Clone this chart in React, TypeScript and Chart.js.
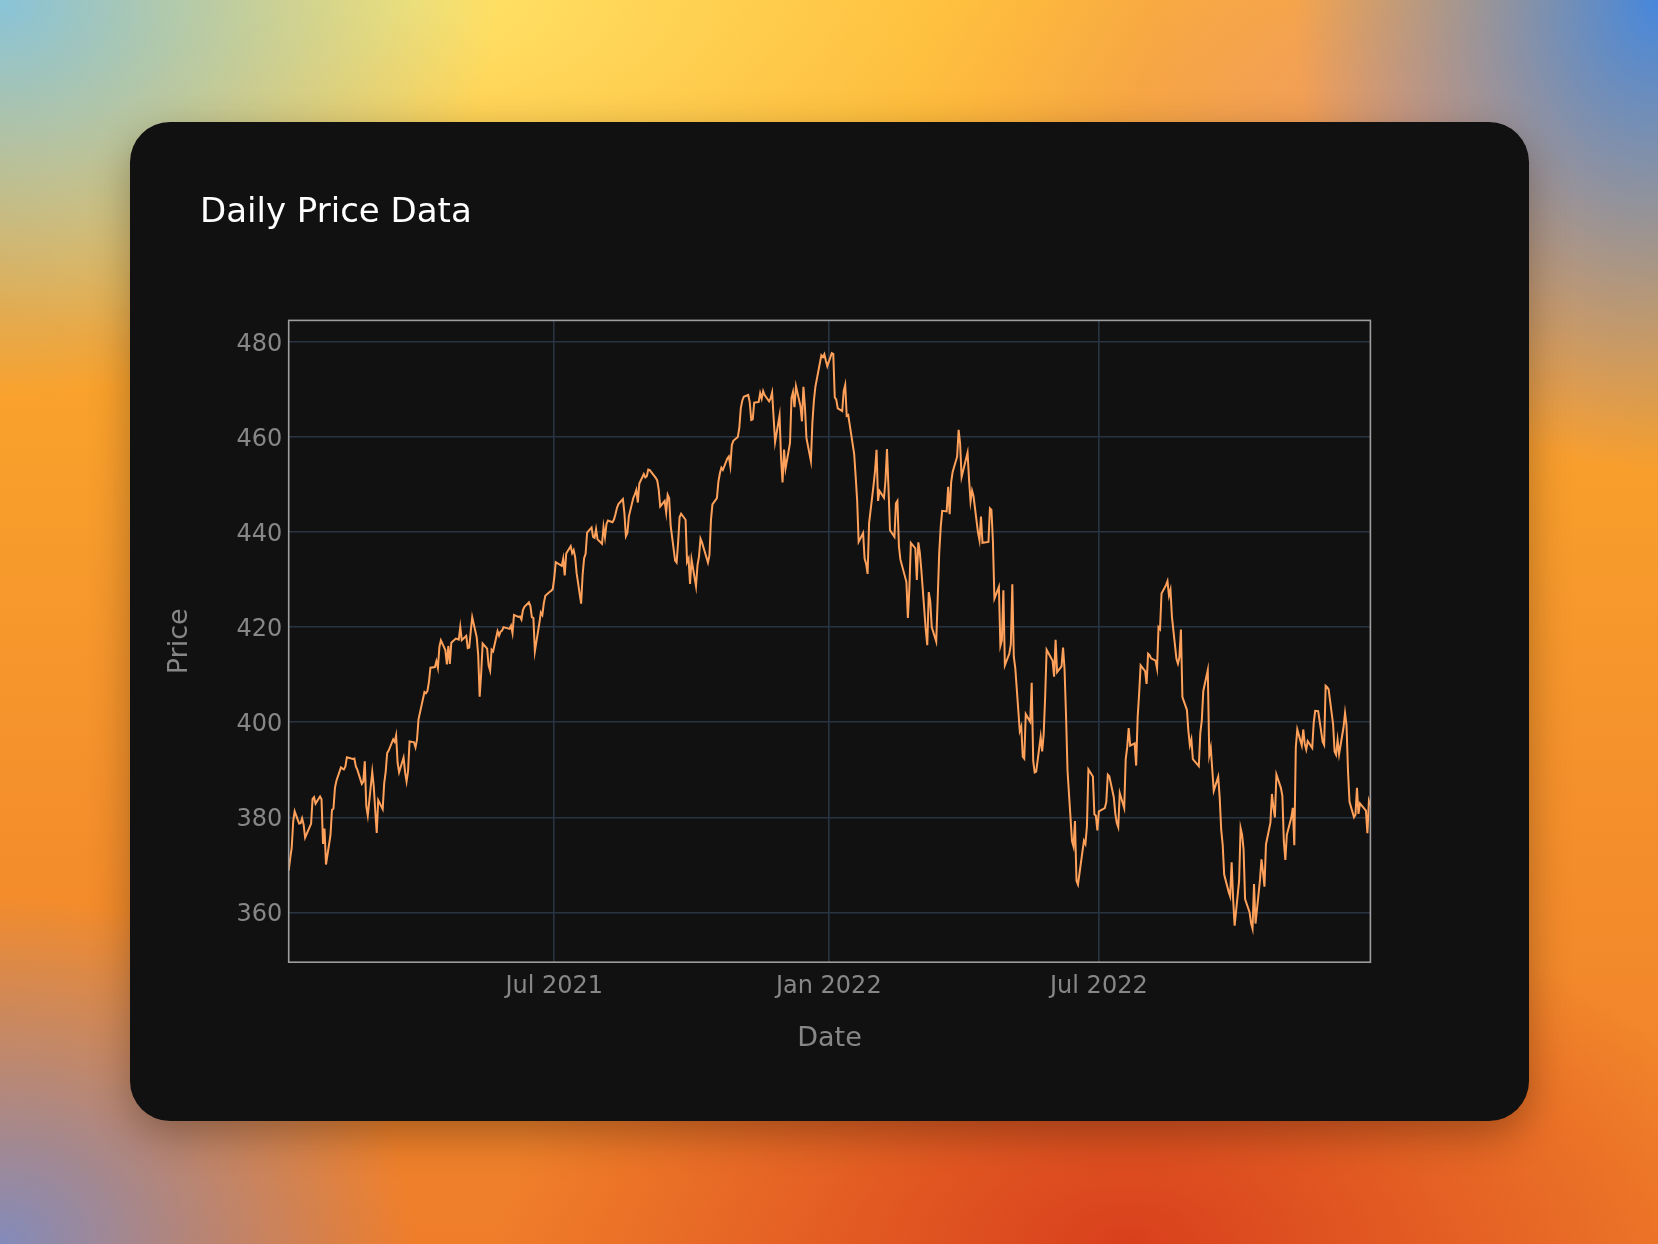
import React, { useEffect, useRef } from 'react';
import { Chart, registerables } from 'chart.js';

Chart.register(...registerables);

// ---------- data ----------
const chartTitle = 'Daily Price Data';
const xAxisTitle = 'Date';
const yAxisTitle = 'Price';

const startDate = '2021-01-04';
const endDate = '2022-12-30';
const marketHolidays = [
  '2021-01-18', '2021-02-15', '2021-04-02', '2021-05-31', '2021-07-05', '2021-09-06', '2021-11-25', '2021-12-24',
  '2022-01-17', '2022-02-21', '2022-04-15', '2022-05-30', '2022-06-20', '2022-07-04', '2022-09-05', '2022-11-24', '2022-12-26',
];

const closeQ1_2021 = [
  368.79, 371.33, 373.55, 379.10, 381.26, 378.69, 378.77, 379.79, 378.46, 375.70, 378.65, 383.89, 384.24, 382.88, 384.39, 383.79, 374.41, 377.63, 370.07,
  376.23, 381.55, 381.85, 386.19, 387.71, 390.51, 390.25, 390.08, 390.71, 392.64, 392.30, 392.39, 390.72, 390.03, 387.03, 387.50, 391.77, 382.33, 380.36,
  389.58, 386.54, 381.42, 376.70, 383.63, 381.72, 387.17, 389.58, 393.53, 394.06, 396.41, 395.91, 397.26, 391.48, 389.48, 392.59, 389.50, 387.52, 389.70, 395.98, 395.78, 394.73, 396.33,
];
const closeQ2_2021 = [
  400.61, 406.36, 406.12, 406.59, 408.52, 411.49, 411.64, 412.86, 411.45, 415.87, 417.26, 415.21, 412.17, 416.07, 412.27, 416.74, 417.61, 417.52, 417.40, 420.06, 417.30,
  418.20, 415.62, 415.75, 419.07, 422.12, 417.94, 414.21, 405.41, 410.28, 416.58, 415.52, 411.94, 410.86, 415.28, 414.94, 419.17, 418.24, 419.07, 419.29, 420.04,
  419.67, 420.33, 418.77, 422.60, 422.19, 422.28, 421.65, 423.61, 424.31, 425.26, 424.48, 422.11, 421.97, 414.92, 420.86, 423.11, 422.60, 425.10, 426.61, 427.47, 427.70, 428.06,
];
const closeQ3_2021 = [
  430.43, 433.72, 432.93, 434.46, 430.92, 435.52, 437.08, 435.59, 436.24, 434.75, 431.34, 424.97, 431.06, 434.55, 435.46, 439.94, 441.02, 439.01, 438.83, 440.65, 438.51,
  437.59, 441.15, 438.98, 441.76, 442.49, 442.13, 442.68, 443.78, 445.11, 445.92, 446.97, 444.04, 439.18, 439.86, 443.36, 447.26, 447.97, 448.91, 446.26, 450.25, 452.23, 451.56,
  451.80, 453.19, 453.08, 451.46, 450.91, 448.98, 445.44, 446.58, 444.17, 447.88, 447.17, 441.40, 434.04, 433.63, 437.86, 443.18, 443.91, 442.64, 433.72, 434.45, 429.14,
];
const closeQ4_2021 = [
  434.24, 428.64, 433.10, 434.90, 438.66, 437.86, 434.69, 433.62, 435.18, 442.50, 445.87, 447.19, 450.64, 452.41, 453.59, 453.12, 455.55, 455.96, 453.94, 458.32, 459.25,
  460.04, 461.90, 466.09, 467.69, 468.53, 468.93, 467.38, 463.62, 463.77, 467.27, 467.43, 469.28, 468.14, 469.73, 468.89, 467.57, 468.19, 469.44, 458.97, 464.60, 455.56,
  450.50, 457.40, 453.42, 458.79, 468.28, 469.52, 466.35, 470.74, 466.57, 463.36, 470.60, 466.45, 459.87, 454.98, 463.06, 467.69, 470.60, 477.26, 476.87, 477.48, 476.16, 474.96,
];
const closeQ1_2022 = [
  477.71, 477.55, 468.38, 467.94, 466.09, 465.51, 469.75, 471.02, 464.53, 464.72, 456.49, 451.75, 446.75, 437.98, 439.84, 434.47, 433.38, 431.24, 441.95, 449.91,
  452.95, 457.35, 446.60, 448.70, 447.26, 450.94, 457.54, 449.32, 440.46, 439.02, 446.10, 446.60, 437.06, 434.23, 429.57, 421.95, 428.30, 437.75, 436.63,
  429.98, 437.89, 435.71, 432.17, 419.43, 416.25, 427.41, 425.48, 420.07, 417.00, 426.17, 435.62, 441.07, 444.52, 444.39, 449.59, 443.80, 450.49, 452.69, 455.91, 461.55, 458.70, 451.64,
];
const closeQ2_2022 = [
  452.92, 456.80, 451.03, 446.52, 448.77, 447.57, 439.92, 438.29, 443.31, 437.79, 437.97, 445.04, 444.71, 438.06, 426.04, 428.51, 416.10, 417.27, 427.81, 412.00,
  414.48, 416.38, 429.06, 413.81, 411.34, 398.17, 399.09, 392.75, 392.34, 401.72, 400.09, 408.32, 391.86, 389.46, 389.63, 396.92, 393.89, 397.37, 405.31, 415.26, 412.93,
  409.59, 417.39, 410.54, 411.79, 415.74, 411.22, 401.44, 389.80, 375.00, 373.87, 379.20, 366.65, 365.86, 375.07, 374.39, 378.06, 390.08, 388.59, 380.65, 380.34, 377.25,
];
const closeQ3_2022 = [
  381.24, 381.96, 383.25, 388.99, 388.67, 384.23, 380.83, 378.83, 377.91, 385.13, 381.95, 392.27, 394.77, 398.79, 395.09, 395.57, 390.89, 401.04, 406.07, 411.99,
  410.77, 408.06, 414.45, 414.17, 413.47, 412.99, 411.35, 419.99, 419.60, 427.10, 428.86, 429.70, 426.65, 427.89, 422.14, 413.35, 412.35, 413.67, 419.51, 405.31, 402.63, 398.21, 395.18,
  396.42, 392.24, 390.76, 397.78, 400.38, 406.60, 410.97, 393.10, 394.69, 390.12, 385.56, 388.55, 384.09, 377.39, 374.22, 367.95, 364.31, 363.38, 370.53, 362.79, 357.18,
];
const closeQ4_2022 = [
  366.61, 377.76, 376.35, 373.20, 362.79, 360.02, 357.74, 356.56, 365.97, 357.63, 366.82, 371.13, 368.50, 365.41, 374.29, 378.87, 384.92, 382.02, 379.98, 389.02, 386.21,
  384.52, 374.87, 371.01, 376.35, 379.95, 382.00, 374.13, 394.69, 398.51, 395.12, 398.49, 395.45, 394.24, 396.03, 394.59, 399.90, 402.42, 402.33, 395.91, 395.23, 407.68,
  407.38, 406.91, 399.59, 393.83, 393.16, 396.24, 393.28, 398.95, 401.97, 399.40, 389.63, 383.27, 380.02, 380.54, 386.23, 380.72, 382.91, 381.40, 376.66, 383.44, 382.43,
];

const yTickValues = [360, 380, 400, 420, 440, 460, 480];
const yRange = [349.5, 484.6];
const xTickDates = ['2021-07-01', '2022-01-01', '2022-07-01'];
const xTickLabels = ['Jul 2021', 'Jan 2022', 'Jul 2022'];

// ---------- helpers ----------
const DAY = 86400000;
const dayNum = (iso: string) => Date.parse(iso + 'T00:00:00Z') / DAY;

function tradingDays(): number[] {
  const hol = new Set(marketHolidays);
  const out: number[] = [];
  for (let d = dayNum(startDate); d <= dayNum(endDate); d++) {
    const dt = new Date(d * DAY);
    const wd = dt.getUTCDay();
    if (wd === 0 || wd === 6) continue;
    if (hol.has(dt.toISOString().slice(0, 10))) continue;
    out.push(d);
  }
  return out;
}

const FONT = '"DejaVu Sans", "Liberation Sans", sans-serif';
const TICK_COLOR = 'rgb(135,135,135)';
const GRID_COLOR = '#283442';

const CARD_W = 1399;
const CARD_H = 999;

export default function App() {
  const canvasRef = useRef<HTMLCanvasElement | null>(null);

  useEffect(() => {
    if (!canvasRef.current) return;
    const days = tradingDays();
    const closes = [
      ...closeQ1_2021, ...closeQ2_2021, ...closeQ3_2021, ...closeQ4_2021,
      ...closeQ1_2022, ...closeQ2_2022, ...closeQ3_2022, ...closeQ4_2022,
    ];
    const n = Math.min(days.length, closes.length);
    const points = [] as { x: number; y: number }[];
    for (let i = 0; i < n; i++) points.push({ x: days[i], y: closes[i] });

    const framePlugin = {
      id: 'frameAndTitle',
      afterDatasetsDraw(chart: any) {
        const { ctx, chartArea } = chart;
        ctx.save();
        ctx.strokeStyle = '#9e9e9e';
        ctx.lineWidth = 1.6;
        ctx.strokeRect(chartArea.left, chartArea.top, chartArea.right - chartArea.left, chartArea.bottom - chartArea.top);
        ctx.restore();
      },
      afterDraw(chart: any) {
        const { ctx } = chart;
        ctx.save();
        ctx.font = `34px ${FONT}`;
        ctx.fillStyle = '#ffffff';
        ctx.textBaseline = 'alphabetic';
        ctx.textAlign = 'left';
        ctx.fillText(chartTitle, 70, 99.7);
        ctx.restore();
      },
    };

    const chart = new Chart(canvasRef.current, {
      type: 'line',
      data: {
        datasets: [
          {
            label: yAxisTitle,
            data: points,
            borderColor: '#FFA15A',
            backgroundColor: '#FFA15A',
            borderWidth: 2,
            pointRadius: 0,
            tension: 0,
            fill: false,
          },
        ],
      },
      options: {
        responsive: false,
        animation: false,
        parsing: false,
        normalized: true,
        layout: { padding: { left: 20, right: 158.6, top: 198.4, bottom: 50 } },
        plugins: {
          legend: { display: false },
          title: { display: false },
          tooltip: { enabled: false },
        },
        scales: {
          x: {
            type: 'linear',
            min: dayNum(startDate),
            max: dayNum(endDate),
            afterBuildTicks: (s: any) => {
              s.ticks = xTickDates.map((d) => ({ value: dayNum(d) }));
            },
            afterFit: (s: any) => {
              s.height = 108.8;
            },
            ticks: {
              callback: (_v: any, i: number) => xTickLabels[i],
              color: TICK_COLOR,
              font: { family: FONT, size: 24 },
              padding: 10.5,
              maxRotation: 0,
              autoSkip: false,
            },
            grid: { color: GRID_COLOR, lineWidth: 1.6, drawTicks: false },
            border: { display: false },
            title: {
              display: true,
              text: xAxisTitle,
              color: TICK_COLOR,
              font: { family: FONT, size: 27 },
              padding: { top: 0, bottom: 16 },
            },
          },
          y: {
            type: 'linear',
            min: yRange[0],
            max: yRange[1],
            afterBuildTicks: (s: any) => {
              s.ticks = yTickValues.map((v) => ({ value: v }));
            },
            afterFit: (s: any) => {
              s.width = 138.7;
            },
            ticks: {
              callback: (v: any) => String(v),
              color: TICK_COLOR,
              font: { family: FONT, size: 24 },
              padding: 6.5,
              labelOffset: 2.5,
              autoSkip: false,
            },
            grid: { color: GRID_COLOR, lineWidth: 1.6, drawTicks: false },
            border: { display: false },
            title: {
              display: true,
              text: yAxisTitle,
              color: TICK_COLOR,
              font: { family: FONT, size: 27 },
              padding: { top: 13.4, bottom: 0 },
            },
          },
        },
      },
      plugins: [framePlugin],
    } as any);

    return () => chart.destroy();
  }, []);

  return (
    <div
      style={{
        position: 'fixed',
        left: 0,
        top: 0,
        width: 1658,
        height: 1244,
        overflow: 'hidden',
        background: [
          'radial-gradient(ellipse 30% 32% at 0% 0%, rgba(130,195,225,0.95), rgba(130,195,225,0))',
          'radial-gradient(ellipse 22% 38% at 100% 0%, rgba(70,135,220,1), rgba(70,135,220,0))',
          'radial-gradient(ellipse 25% 28% at 0% 100%, rgba(125,140,195,0.95), rgba(125,140,195,0))',
          'radial-gradient(ellipse 38% 30% at 68% 100%, rgba(215,60,28,0.95), rgba(215,60,28,0))',
          'radial-gradient(ellipse 45% 30% at 25% 0%, rgba(255,228,105,1), rgba(255,228,105,0))',
          'radial-gradient(ellipse 30% 30% at 85% 10%, rgba(235,150,110,0.8), rgba(235,150,110,0))',
          'linear-gradient(180deg, #ffb22c 0%, #f79a2c 45%, #ef7d2a 100%)',
        ].join(','),
      }}
    >
      <div
        style={{
          position: 'absolute',
          left: 130,
          top: 122,
          width: CARD_W,
          height: CARD_H,
          borderRadius: 40,
          background: '#111111',
          overflow: 'hidden',
          boxShadow: '0 14px 40px rgba(0,0,0,0.3)',
        }}
      >
        <canvas
          ref={canvasRef}
          width={CARD_W}
          height={CARD_H}
          style={{ display: 'block', width: CARD_W, height: CARD_H }}
        />
      </div>
    </div>
  );
}
